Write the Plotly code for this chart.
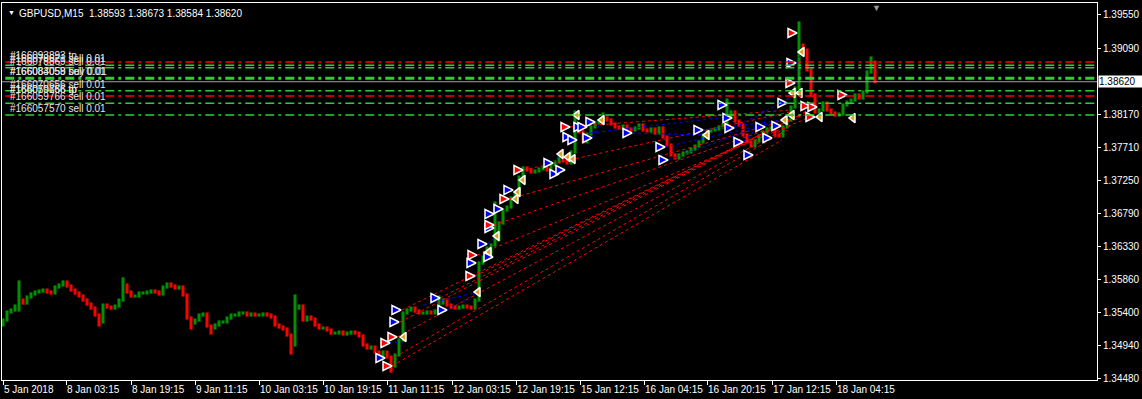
import plotly.graph_objects as go

# ---------------- data ----------------
# closes of consecutive 1-hour groups (4 x M15 bars)
close = [
    1.35301, 1.35413, 1.35441, 1.35496, 1.35580, 1.35538, 1.35622, 1.35664, 1.35691, 1.35705,
    1.35719, 1.35691, 1.35678, 1.35761, 1.35789, 1.35831, 1.35775, 1.35719, 1.35678, 1.35636,
    1.35580, 1.35524, 1.35468, 1.35371, 1.35274, 1.35510, 1.35482, 1.35468, 1.35496, 1.35580,
    1.35789, 1.35691, 1.35636, 1.35636, 1.35678, 1.35678, 1.35691, 1.35705, 1.35691, 1.35664,
    1.35761, 1.35803, 1.35775, 1.35747, 1.35761, 1.35650, 1.35329, 1.35260, 1.35301, 1.35371,
    1.35385, 1.35218, 1.35190, 1.35232, 1.35274, 1.35274, 1.35329, 1.35371, 1.35371, 1.35399,
    1.35399, 1.35371, 1.35385, 1.35371, 1.35371, 1.35385, 1.35371, 1.35343, 1.35232, 1.35204,
    1.35176, 1.35092, 1.34953, 1.35468, 1.35496, 1.35301, 1.35343, 1.35315, 1.35232, 1.35190,
    1.35190, 1.35162, 1.35120, 1.35120, 1.35134, 1.35106, 1.35120, 1.35134, 1.35120, 1.35079,
    1.34953, 1.34911, 1.34925, 1.34856, 1.34814, 1.34856, 1.34786, 1.34661, 1.34814, 1.35023,
    1.35399, 1.35441, 1.35468, 1.35427, 1.35399, 1.35399, 1.35413, 1.35399, 1.35427, 1.35538,
    1.35580, 1.35510, 1.35482, 1.35468, 1.35482, 1.35496, 1.35482, 1.35468, 1.35580, 1.36095,
    1.36179, 1.36304, 1.36346, 1.36416, 1.36653, 1.36834, 1.36875, 1.37001, 1.37071, 1.37293,
    1.37419, 1.37391, 1.37363, 1.37377, 1.37405, 1.37419, 1.37391, 1.37461, 1.37502, 1.37558,
    1.37516, 1.37488, 1.37642, 1.37990, 1.37920, 1.37781, 1.37892, 1.37990, 1.38046, 1.38073,
    1.38115, 1.38087, 1.38032, 1.37990, 1.37976, 1.38004, 1.37962, 1.37948, 1.37976, 1.38018,
    1.37948, 1.37934, 1.37962, 1.37906, 1.37976, 1.37851, 1.37739, 1.37600, 1.37558, 1.37600,
    1.37628, 1.37642, 1.37683, 1.37725, 1.37781, 1.37878, 1.37934, 1.37948, 1.37962, 1.37990,
    1.38018, 1.38129, 1.38199, 1.38073, 1.38018, 1.37878, 1.37781, 1.37725, 1.37795, 1.37865,
    1.37920, 1.37962, 1.37976, 1.37878, 1.37865, 1.37990, 1.38087, 1.38268, 1.38533, 1.39132,
    1.39062, 1.38784, 1.38436, 1.38199, 1.38227, 1.38324, 1.38227, 1.38185, 1.38157, 1.38171,
    1.38296, 1.38338, 1.38366, 1.38436, 1.38394, 1.38477, 1.38756, 1.38895, 1.38620,
]
first_open = 1.35232
bars_per_group = 4
high_ext = {4: 1.35831, 30: 1.35873, 73: 1.35636, 109: 1.35622, 123: 1.36931,
            143: 1.38199, 150: 1.38171, 181: 1.38366, 199: 1.39439, 217: 1.38951}
low_ext = {4: 1.35441, 24: 1.35232, 47: 1.35190, 52: 1.35120, 72: 1.34842,
           97: 1.34591, 122: 1.36179}

# x-axis labels (bar index of each M15 label)
tick_bars = [0, 63, 128, 192, 256, 320, 384, 449, 513, 577, 641, 704, 769, 833]
tick_text = ["5 Jan 2018", "8 Jan 03:15", "8 Jan 19:15", "9 Jan 11:15", "10 Jan 03:15",
             "10 Jan 19:15", "11 Jan 11:15", "12 Jan 03:15", "12 Jan 19:15", "15 Jan 12:15",
             "16 Jan 04:15", "16 Jan 20:15", "17 Jan 12:15", "18 Jan 04:15"]
price_ticks = [1.34480, 1.34940, 1.35400, 1.35860, 1.36330, 1.36790, 1.37250,
               1.37710, 1.38170, 1.39090, 1.39550]
bid = 1.38620

# trade arrows (bar index, price)
buy_bar = [382, 396, 398, 437, 444, 473, 484, 490, 491, 491, 500, 510, 550, 556, 562,
           569, 574, 580, 584, 589, 592, 629, 662, 665, 700, 724, 729, 731, 740, 750,
           762, 769, 778, 784, 793]
buy_price = [1.34772, 1.35274, 1.35441, 1.35608, 1.35441, 1.36095, 1.36360, 1.36179, 1.36583, 1.36778,
             1.36848, 1.37112, 1.37488, 1.37335, 1.37391, 1.37851, 1.37809, 1.37990, 1.37990, 1.37837,
             1.38059, 1.37906, 1.37711, 1.37530, 1.37948, 1.38296, 1.38115, 1.37976, 1.37781, 1.37600,
             1.37990, 1.37837, 1.38004, 1.38324, 1.38881]
sell_bar = [387, 389, 394, 472, 474, 491, 506, 520, 567, 792, 794, 807, 812, 814, 844]
sell_price = [1.34981, 1.34661, 1.35065, 1.35914, 1.36206, 1.36625, 1.36987, 1.37391, 1.37990,
              1.38603, 1.39299, 1.38282, 1.38129, 1.38268, 1.38436]
exit_bar = [401, 475, 486, 494, 513, 515, 520, 558, 565, 570, 574, 599, 704, 782, 789, 790,
            797, 799, 817, 850]
exit_price = [1.35065, 1.35691, 1.36248, 1.36471, 1.36987, 1.37084, 1.37252, 1.37614, 1.37572,
              1.37544, 1.38157, 1.38087, 1.37878, 1.38087, 1.38157, 1.38464, 1.38464, 1.39035,
              1.38129, 1.38115]

# sell trade links (open -> close)
sell_open_bar = [389, 392, 394, 397, 399, 437, 472, 474, 491, 506, 520, 567]
sell_open_price = [1.34661, 1.34786, 1.35065, 1.35274, 1.35441, 1.35608, 1.35914, 1.36206,
                   1.36625, 1.36987, 1.37391, 1.37990]
sell_close_bar = [779, 784, 789, 787, 797, 802, 807, 812, 797, 802, 787, 787]
sell_close_price = [1.37809, 1.37948, 1.38018, 1.38087, 1.38157, 1.38199, 1.38227, 1.38157,
                    1.38115, 1.38157, 1.38199, 1.38227]
# buy trade links
buy_open_bar = [380, 420, 444, 484, 550, 587, 629, 662, 665, 700, 731, 740, 793, 589]
buy_open_price = [1.34981, 1.35510, 1.35441, 1.36360, 1.37488, 1.37906, 1.37906, 1.37711,
                  1.37530, 1.37948, 1.37976, 1.37781, 1.38881, 1.37837]
buy_close_bar = [400, 475, 475, 494, 558, 724, 704, 782, 789, 782, 797, 790, 799, 599]
buy_close_price = [1.34995, 1.35691, 1.35691, 1.36471, 1.37614, 1.38129, 1.37878, 1.38087,
                   1.38157, 1.38087, 1.38464, 1.38464, 1.39035, 1.38087]

# open-order level lines
order_levels = [1.38895, 1.38849, 1.38816, 1.38668, 1.38495, 1.38422, 1.38320, 1.38157]
order_kinds = ["tp", "open", "open", "open_thick", "open", "tp", "open", "open"]
order_labels = [
    ("#166093893 tp", 1.38895), ("#166078621 sell 0.01", 1.38849),
    ("#166078869 sell 0.01", 1.38816), ("#166083058 buy 0.01", 1.38668),
    ("#166084059 sell 0.01", 1.38668), ("#166070656 sell 0.01", 1.38495),
    ("#166070656 tp", 1.38422), ("#166059766 tp", 1.38422),
    ("#166059766 sell 0.01", 1.38320), ("#166057570 sell 0.01", 1.38157),
]

# ---------------- figure ----------------
Y_RANGE = [1.34466, 1.39717]
X_RANGE = [-1, 1094]
FONT = "Liberation Sans, Arial, sans-serif"
WICK_PAD = 0.00022   # drawing padding so each hourly group shows its intrabar range

fig = go.Figure()

opens = [first_open] + close[:-1]
gx, gy, rx, ry = [], [], [], []
for k, (o, c) in enumerate(zip(opens, close)):
    xb = k * bars_per_group
    hi = max(o, c, high_ext.get(k, o)) + WICK_PAD
    lo = min(o, c, low_ext.get(k, o)) - WICK_PAD
    if c >= o:
        gx += [xb, xb, None]; gy += [lo, hi, None]
    else:
        rx += [xb, xb, None]; ry += [lo, hi, None]

fig.add_trace(go.Scatter(x=gx, y=gy, mode="lines", line=dict(color="#009000", width=3),
                         hoverinfo="skip"))
fig.add_trace(go.Scatter(x=rx, y=ry, mode="lines", line=dict(color="#FF0000", width=3),
                         hoverinfo="skip"))


def links(xa, ya, xb, yb):
    xs, ys = [], []
    for a, b, c, d in zip(xa, ya, xb, yb):
        xs += [a, c, None]; ys += [b, d, None]
    return xs, ys


sx, sy = links(sell_open_bar, sell_open_price, sell_close_bar, sell_close_price)
fig.add_trace(go.Scatter(x=sx, y=sy, mode="lines",
                         line=dict(color="#FF0000", width=1, dash="3px,3px")))
bx, by = links(buy_open_bar, buy_open_price, buy_close_bar, buy_close_price)
fig.add_trace(go.Scatter(x=bx, y=by, mode="lines",
                         line=dict(color="#0000FF", width=1, dash="3px,3px")))

fig.add_trace(go.Scatter(x=exit_bar, y=exit_price, mode="markers",
                         marker=dict(symbol="triangle-left", size=8, color="#DAA520",
                                     line=dict(color="white", width=1.5))))
fig.add_trace(go.Scatter(x=buy_bar, y=buy_price, mode="markers",
                         marker=dict(symbol="arrow-right", size=9, color="#0000FF",
                                     line=dict(color="white", width=1.5))))
fig.add_trace(go.Scatter(x=sell_bar, y=sell_price, mode="markers",
                         marker=dict(symbol="arrow-right", size=9, color="#FF0000",
                                     line=dict(color="white", width=1.5))))

shapes = []
for lvl, kind in zip(order_levels, order_kinds):
    color = "#FF0000" if kind == "tp" else "#32CD32"
    width = 3 if kind == "open_thick" else 1.5
    shapes.append(dict(type="line", xref="paper", x0=0.003, x1=1, yref="y", y0=lvl, y1=lvl,
                       line=dict(color=color, width=width, dash="9px,4px,3px,4px"), layer="above"))
shapes.append(dict(type="line", xref="paper", x0=0, x1=1, yref="y", y0=bid, y1=bid,
                   line=dict(color="#A0A0A0", width=1), layer="above"))

annotations = []
for txt, lvl in order_labels:
    annotations.append(dict(text=txt, xref="paper", x=0, xanchor="left", xshift=6,
                            yref="y", y=lvl, yanchor="bottom", yshift=-1, showarrow=False,
                            font=dict(family=FONT, size=10, color="#E6E6E6")))
annotations.append(dict(text="GBPUSD,M15  1.38593 1.38673 1.38584 1.38620",
                        xref="paper", x=0, xanchor="left", xshift=15,
                        yref="paper", y=1, yanchor="top", yshift=-3, showarrow=False,
                        font=dict(family=FONT, size=10, color="white")))
annotations.append(dict(text="▼", xref="paper", x=0, xanchor="left", xshift=4,
                        yref="paper", y=1, yanchor="top", yshift=-4, showarrow=False,
                        font=dict(family=FONT, size=7, color="white")))
annotations.append(dict(text="▼", xref="x", x=873, xanchor="center",
                        yref="paper", y=1, yanchor="top", yshift=2, showarrow=False,
                        font=dict(family=FONT, size=9, color="#9A9A9A")))
annotations.append(dict(text="1.38620", xref="paper", x=1, xanchor="left", xshift=1,
                        yref="y", y=bid, yanchor="middle", showarrow=False,
                        width=44, height=11, align="left", bgcolor="white", borderpad=0,
                        font=dict(family=FONT, size=10, color="black")))

fig.update_layout(
    width=1142, height=399,
    margin=dict(l=2, r=45, t=3, b=19),
    paper_bgcolor="black", plot_bgcolor="black",
    showlegend=False,
    shapes=shapes, annotations=annotations,
    font=dict(family=FONT, size=10, color="white"),
    xaxis=dict(range=X_RANGE, showgrid=False, zeroline=False, showline=True,
               linecolor="white", linewidth=1, mirror=True,
               ticks="outside", ticklen=4, tickcolor="white", tickangle=0,
               tickvals=tick_bars, ticktext=tick_text, ticklabelposition="outside right",
               tickfont=dict(family=FONT, size=10, color="white")),
    yaxis=dict(range=Y_RANGE, side="right", showgrid=False, zeroline=False, showline=True,
               linecolor="white", linewidth=1, mirror=True,
               ticks="outside", ticklen=3, tickcolor="white",
               tickvals=price_ticks, tickformat=".5f",
               tickfont=dict(family=FONT, size=10, color="white")),
)

fig.write_html("out.html")
